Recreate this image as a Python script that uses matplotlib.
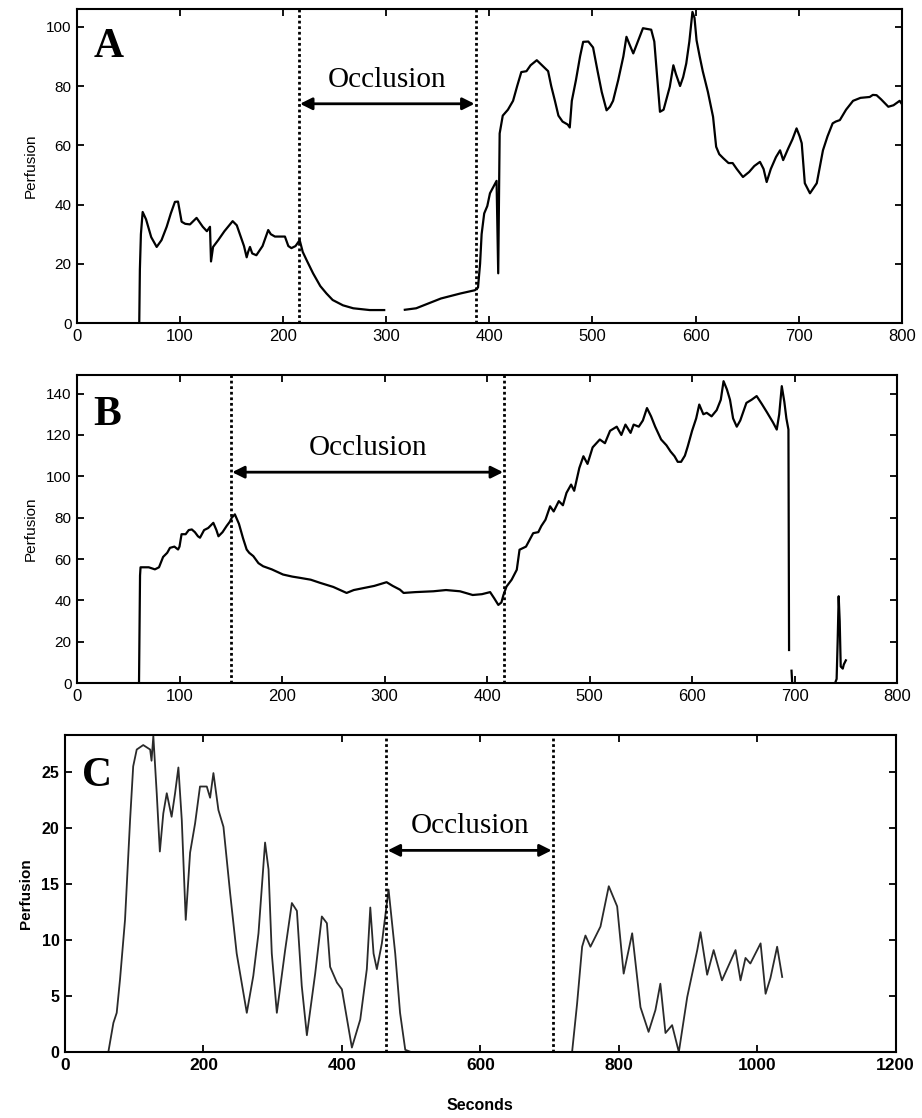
import matplotlib
matplotlib.use("Agg")
import matplotlib.pyplot as plt
import numpy as np

# panel A trace (seconds, perfusion)
a_t = [0, 60.4, 61, 62, 63.7, 67, 72, 77.3, 82, 87, 91, 95, 98, 101.5, 105, 109.6, 116, 122, 126,
       129, 130, 132, 137, 143, 151, 155, 158, 162, 164.6, 166, 167.8, 170, 174, 180, 185.5, 188,
       192, 201.7, 205, 208, 212, 216, 219, 222.8, 229, 236, 242, 248, 258, 268, 284, 298, 299,
       318, 329, 340, 353, 372, 386, 389, 391, 392.5, 395, 398, 400.6, 404, 407, 408.6, 410, 413,
       418, 423, 427, 431, 436, 440, 446, 451, 457, 460, 463.6, 467, 471, 476, 478, 480, 484, 488,
       491, 496, 500.6, 505, 509, 513.7, 517, 520, 525, 530, 533, 536, 539.6, 544, 549, 557, 560,
       563, 565.5, 569, 575, 578.5, 581, 585, 588, 591, 594, 597, 599, 601, 604, 607, 612, 617,
       620, 623, 627, 632, 636, 640, 646, 652, 657, 662.5, 666, 669, 673, 678, 682, 685, 690, 694,
       698, 701, 703, 705, 706, 711, 717.6, 723.6, 728, 733, 736, 740, 746, 752.8, 760, 769, 772,
       775.6, 780, 787, 792, 798, 800]
a_v = [0, 0, 18, 30, 37.5, 35, 29, 25.7, 28, 32.5, 37, 40.9, 41, 34.2, 33.5, 33.3, 35.5, 32.5, 31,
       32.5, 20.8, 25.7, 28, 31, 34.4, 33, 30, 26, 22.2, 24, 25.7, 23.5, 22.9, 26, 31.4, 30,
       29.2, 29.2, 26, 25.3, 26, 28, 24, 21.2, 16.8, 12.5, 10, 7.8, 6, 5, 4.4, 4.4, np.nan,
       4.5, 5, 6.5, 8.3, 10, 11.1, 12, 20, 30, 37, 39.5, 43.8, 46, 48, 16.8, 64, 70,
       72, 75, 80, 84.7, 85, 87, 88.7, 87, 85, 80, 75, 70, 68, 67, 66, 75, 82, 90,
       94.9, 95, 93, 85, 78, 71.8, 73, 75, 82, 90, 96.6, 94, 91, 95, 99.5, 99, 95,
       82, 71.3, 72, 79.7, 87, 84, 80, 83, 87.6, 95, 105, 103, 95.4, 90, 85, 78, 69.6,
       59.5, 57, 55.6, 54, 54, 52, 49.3, 51, 53, 54.4, 52, 47.6, 52, 56, 58.3, 55, 59, 62,
       65.7, 63, 60.7, 52, 47.2, 43.8, 47.2, 58.3, 63, 67.4, 68, 68.5, 72, 75, 76, 76.3, 77,
       76.9, 75.5, 73, 73.5, 75, 74]

# panel B trace
b_t = [0, 60.5, 61.5, 62, 70, 76, 80, 84, 88, 90.7, 95, 98.6, 100, 102, 106, 109, 112, 115, 118,
       120, 124, 128, 133, 136, 138, 142, 146, 149, 151, 154, 158, 162, 165.5, 168, 172, 177,
       181.6, 190, 201, 210, 217.5, 228, 237, 250, 263, 270, 276, 290, 302, 308, 315, 318.6,
       330, 347.6, 360, 373.6, 386, 395, 403, 407, 411, 414, 416, 419, 424, 429, 431.7, 438,
       445, 450, 453, 457, 461.5, 465, 470, 474, 477.5, 482, 485, 490, 494, 498, 503, 510, 515,
       520, 526.5, 531, 535, 540, 543, 548, 552, 556, 560, 564, 569.8, 575, 579, 582.9, 586,
       589.3, 593, 595.8, 600, 604, 607, 611, 614.3, 619, 624, 628, 630.7, 634, 637, 640, 643.6,
       647, 653, 658, 663, 668, 673, 679, 682.6, 685, 687.5, 690, 692, 694, 694.6, 695.5,
       697, 698, 699, 738, 741, 742, 743, 744, 745, 747, 748, 750]
b_v = [0, 0, 52, 56, 56, 55, 56, 61, 63, 65.4, 66, 64.6, 66, 72, 72, 74, 74.3, 73, 71,
       70.3, 74, 75, 77.5, 74, 71, 73, 76, 78, 80, 81.6, 77, 70, 64.6, 63, 61.4, 58,
       56.5, 55, 52.5, 51.5, 50.9, 50, 48.5, 46.5, 43.6, 45, 45.6, 47, 48.8, 47, 45.2, 43.6,
       44, 44.4, 45, 44.4, 42.6, 43, 44, 41, 37.8, 39, 42.6, 46.7, 50, 54.8, 64.5, 66,
       72.5, 73, 76, 79, 85.5, 83, 88, 86, 92, 96, 93, 104, 109.7, 106, 114, 117.8, 116,
       122, 124, 120, 125, 121, 125, 124, 127, 133, 129, 124, 117.8, 115, 112, 109.7, 107,
       107, 110, 114.5, 122, 128, 134.7, 130, 130.7, 129, 132, 137, 146, 142, 137, 128, 124,
       127, 135.5, 137, 138.8, 135, 131, 126, 122.6, 130, 143.6, 136, 128, 122.6, 16, np.nan,
       6, -3, np.nan, -2, 2, 20, 42, 30, 8, 7, 9, 11]

# panel C trace
c_t = [0, 62.6, 69.9, 74.7, 79.5, 86.7, 94, 98.5, 103.6, 113, 123, 125, 127.6, 132.5, 137, 142,
       147, 154, 159, 163.8, 168.7, 174.4, 180.7, 187.9, 195, 204.8, 209.6, 214.4, 221.6, 228.9,
       238.5, 248, 262.6, 272, 279.5, 289, 294, 298.7, 306, 318, 327.7, 335, 342, 349.4, 361.4,
       371, 378.3, 383, 392.8, 400, 414.4, 426.5, 436, 441, 445.7, 450.5, 457.7, 467.4, 477,
       484, 491.5, 500, 732.5, 739.7, 747, 751.8, 759, 773.5, 785.5, 797.6, 807, 819.3, 831.3,
       843, 852.9, 860, 867.4, 877, 886.7, 898.8, 913.3, 918, 922.8, 927.6, 937, 949, 968.6,
       975.8, 983, 990, 1004.8, 1012, 1019, 1028.7, 1036]
c_v = [0, 0, 2.6, 3.5, 6.5, 11.8, 20.7, 25.5, 27, 27.4, 27, 26, 28.2, 23.1, 17.9, 21.3,
       23.1, 21, 23.1, 25.4, 20.7, 11.8, 17.8, 20.4, 23.7, 23.7, 22.7, 24.9, 21.6, 20.1,
       14.2, 8.8, 3.5, 6.8, 10.6, 18.7, 16.3, 8.8, 3.5, 9.1, 13.3, 12.6, 5.9, 1.5, 7,
       12.1, 11.5, 7.6, 6.2, 5.6, 0.4, 2.9, 7.4, 12.9, 8.8, 7.4, 9.7, 14.5, 8.8,
       3.5, 0.2, 0, 0, 4.3, 9.4, 10.4, 9.4, 11.2, 14.8, 13, 7, 10.6, 4,
       1.8, 3.75, 6.1, 1.7, 2.4, 0, 4.9, 9.1, 10.7, 8.8, 6.9, 9.1, 6.4, 9.1,
       6.4, 8.4, 7.9, 9.7, 5.2, 6.6, 9.4, 6.7]

occl_a = (215, 387)
occl_b = (150, 417)
occl_c = (464, 705)

SERIF = "Liberation Serif"
SANS = "Liberation Sans"


def panel(fig, rect, t, v, occl, xlim, ylim, xticks, yticks, letter, letter_xy,
          arrow_y, lw, color, bold=False):
    ax = fig.add_axes(rect)
    ax.plot(t, v, color=color, lw=lw)
    ax.set_xlim(*xlim)
    ax.set_ylim(*ylim)
    ax.set_xticks(xticks)
    ax.set_yticks(yticks)
    w = "bold" if bold else "normal"
    fs = 12.5 if bold else 12
    ax.set_xticklabels([str(x) for x in xticks], family=SANS, fontsize=fs, weight=w)
    ax.set_yticklabels([str(y) for y in yticks], family=SANS, fontsize=fs - 1, weight=w)
    ax.tick_params(direction="in", length=5, width=1.3, top=True, right=True, pad=4)
    for s in ax.spines.values():
        s.set_linewidth(1.5)
    ax.set_ylabel("Perfusion", family=SANS, fontsize=11, weight=w, labelpad=6)
    for x in occl:
        ax.axvline(x, color="black", ls=(0, (1, 1)), lw=2)
    ax.annotate("", xy=(occl[0], arrow_y), xytext=(occl[1], arrow_y),
                arrowprops=dict(arrowstyle="<|-|>", color="black", lw=2,
                                mutation_scale=18, shrinkA=1, shrinkB=1))
    span = ylim[1] - ylim[0]
    ax.text((occl[0] + occl[1]) / 2, arrow_y + 0.035 * span, "Occlusion", family=SERIF,
            fontsize=21, ha="center", va="bottom")
    ax.text(letter_xy[0], letter_xy[1], letter, transform=ax.transAxes, family=SERIF,
            fontsize=30, weight="bold", ha="center", va="center")
    return ax


fig = plt.figure(figsize=(9.22, 11.18), dpi=100)

panel(fig, [0.0835, 0.711, 0.8945, 0.281], a_t, a_v, occl_a, (0, 800), (0, 106),
      list(range(0, 801, 100)), [0, 20, 40, 60, 80, 100], "A", (0.038, 0.88),
      74, 1.6, "black")
panel(fig, [0.0835, 0.389, 0.8895, 0.2756], b_t, b_v, occl_b, (0, 800), (0, 149),
      list(range(0, 801, 100)), list(range(0, 141, 20)), "B", (0.037, 0.87),
      102, 1.6, "black")
axc = panel(fig, [0.0705, 0.059, 0.901, 0.2836], c_t, c_v, occl_c, (0, 1200), (0, 28.3),
            list(range(0, 1201, 200)), [0, 5, 10, 15, 20, 25], "C", (0.039, 0.87),
            18, 1.3, "#2a2a2a", bold=True)
axc.set_xlabel("Seconds", family=SANS, fontsize=11.5, weight="bold", labelpad=18)

fig.savefig("out.png", dpi=100)
plt.close(fig)
